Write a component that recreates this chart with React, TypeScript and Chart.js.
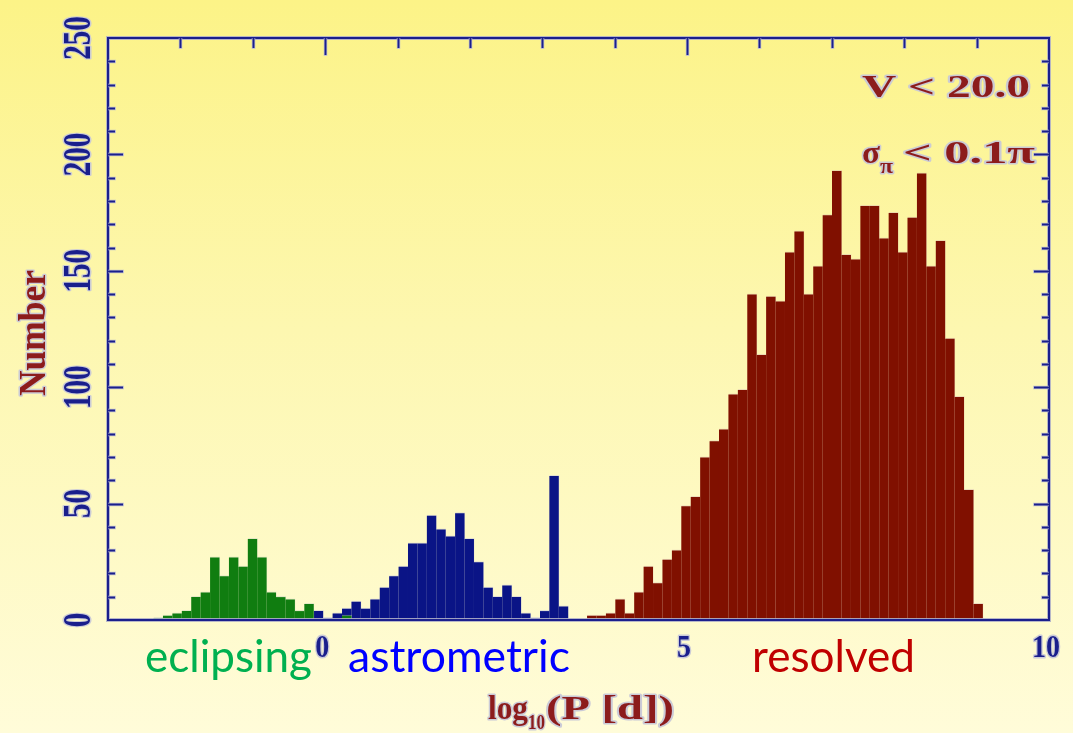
import React, { useEffect, useRef } from "react";
import { Chart, registerables } from "chart.js";

Chart.register(...registerables);

// ---- axes ----
const xAxisMin = -3;
const xAxisMax = 10;
const yAxisMin = 0;
const yAxisMax = 250;
const xTickLabels = [0, 5, 10];
const yTickLabels = [0, 50, 100, 150, 200, 250];
const xMinorStep = 1;
const yMinorStep = 10;

// ---- histogram bins (log10 P [d]) ----
const binStart = -2.371;
const binWidth = 0.1302;

const eclipsingStartBin = 0;
const eclipsingCounts = [1, 2, 3, 4, 10, 12, 27, 19, 27, 23, 35, 27, 12, 10, 9, 4, 7, null, null, null, 2];

const astrometricStartBin = 17;
const astrometricCounts = [4, 1, 3, 5, 8, 5, 9, 14, 19, 23, 33, 33, 45, 39, 36, 46, 35, 25, 14, 10, 15, 10, 3, 1, 4, 62, 6];

const resolvedStartBin = 46;
const resolvedCounts = [
  2, 2, 3, 9, 3, 12, 23, 16, 26, 30, 49, 53, 70, 77, 82, 97, 99, 140, 114, 139, 137,
  158, 167, 140, 152, 174, 193, 157, 155, 178, 178, 164, 175, 158, 173, 192, 152, 163,
  121, 96, 56, 7,
];

const seriesNames = ["eclipsing", "astrometric", "resolved"];
const barColors = ["#107d10", "#0a1486", "#801000"];
const labelColors = ["#00b050", "#0000ff", "#c00000"];

const navy = "#1a1f8c";
const darkRed = "#8c1c1c";
const halo = "rgba(200,200,215,0.95)";

function toPoints(startBin: number, counts: (number | null)[]) {
  return counts.map((c, i) => ({ x: binStart + (startBin + i + 0.5) * binWidth, y: c }));
}

function fitText(
  ctx: CanvasRenderingContext2D,
  text: string,
  x: number,
  y: number,
  width: number,
  color: string,
  haloColor?: string
) {
  const w = ctx.measureText(text).width;
  ctx.save();
  ctx.translate(x, y);
  ctx.scale(width / w, 1);
  if (haloColor) {
    ctx.lineJoin = "round";
    ctx.lineWidth = 3;
    ctx.strokeStyle = haloColor;
    ctx.strokeText(text, 0, 0);
  }
  ctx.fillStyle = color;
  ctx.fillText(text, 0, 0);
  ctx.restore();
}

const decorPlugin = {
  id: "decor",
  afterDatasetsDraw(chart: any) {
    const { ctx, chartArea: a, scales } = chart;
    const x = scales.x;
    const y = scales.y;
    ctx.save();

    // frame
    ctx.strokeStyle = "rgba(175,175,200,0.9)";
    ctx.lineWidth = 4;
    ctx.strokeRect(a.left, a.top, a.right - a.left, a.bottom - a.top);
    ctx.strokeStyle = navy;
    ctx.lineWidth = 2;
    ctx.strokeRect(a.left, a.top, a.right - a.left, a.bottom - a.top);

    // y ticks (left and right)
    for (let v = yAxisMin + yMinorStep; v < yAxisMax; v += yMinorStep) {
      const py = Math.round(y.getPixelForValue(v)) + 0.5;
      const len = yTickLabels.includes(v) ? 15 : 7;
      ctx.strokeStyle = "rgba(190,190,210,0.9)";
      ctx.lineWidth = 3.5;
      ctx.beginPath();
      ctx.moveTo(a.left, py);
      ctx.lineTo(a.left + len + 1, py);
      ctx.moveTo(a.right, py);
      ctx.lineTo(a.right - len - 1, py);
      ctx.stroke();
      ctx.strokeStyle = navy;
      ctx.lineWidth = 2;
      ctx.beginPath();
      ctx.moveTo(a.left, py);
      ctx.lineTo(a.left + len, py);
      ctx.moveTo(a.right, py);
      ctx.lineTo(a.right - len, py);
      ctx.stroke();
    }
    // x ticks (top)
    for (let v = xAxisMin + xMinorStep; v < xAxisMax; v += xMinorStep) {
      const px = Math.round(x.getPixelForValue(v)) + 0.5;
      const len = xTickLabels.includes(v) ? 17 : 10;
      ctx.strokeStyle = "rgba(190,190,210,0.9)";
      ctx.lineWidth = 3.5;
      ctx.beginPath();
      ctx.moveTo(px, a.top);
      ctx.lineTo(px, a.top + len + 1);
      ctx.stroke();
      ctx.strokeStyle = navy;
      ctx.lineWidth = 2;
      ctx.beginPath();
      ctx.moveTo(px, a.top);
      ctx.lineTo(px, a.top + len);
      ctx.stroke();
    }

    // y tick labels (rotated)
    ctx.font = "bold 40px 'Liberation Serif'";
    ctx.textBaseline = "middle";
    ctx.textAlign = "left";
    for (const v of yTickLabels) {
      const py = y.getPixelForValue(v);
      const s = String(v);
      const w = s.length * 14.5;
      ctx.save();
      ctx.translate(80, py);
      ctx.rotate(-Math.PI / 2);
      fitText(ctx, s, -w / 2, 0, w, navy, halo);
      ctx.restore();
    }

    // x tick labels
    ctx.font = "bold 32px 'Liberation Serif'";
    ctx.textBaseline = "alphabetic";
    for (const v of xTickLabels) {
      const px = x.getPixelForValue(v) - 3;
      const s = String(v);
      const w = s.length * 14;
      fitText(ctx, s, px - w / 2, 657, w, navy, halo);
    }

    // axis titles
    ctx.font = "bold 38px 'Liberation Serif'";
    ctx.save();
    ctx.translate(45, 333);
    ctx.rotate(-Math.PI / 2);
    ctx.textBaseline = "alphabetic";
    fitText(ctx, "Number", -63, 0, 126, darkRed, halo);
    ctx.restore();

    ctx.font = "bold 34px 'Liberation Serif'";
    fitText(ctx, "log", 488, 719, 40, darkRed, halo);
    ctx.font = "bold 22px 'Liberation Serif'";
    fitText(ctx, "10", 528, 729, 17, darkRed, halo);
    ctx.font = "bold 34px 'Liberation Serif'";
    fitText(ctx, "(P [d])", 546, 719, 128, darkRed, halo);

    // selection annotations
    ctx.font = "bold 32px 'Liberation Serif'";
    fitText(ctx, "V < 20.0", 862, 97, 168, darkRed, halo);
    fitText(ctx, "σ", 862, 163, 18, darkRed, halo);
    ctx.font = "bold 22px 'Liberation Serif'";
    fitText(ctx, "π", 880, 173, 13, darkRed, halo);
    ctx.font = "bold 32px 'Liberation Serif'";
    fitText(ctx, "< 0.1π", 903, 163, 132, darkRed, halo);

    // region labels
    ctx.font = "44px Lato";
    fitText(ctx, seriesNames[0], 145, 672, 167, labelColors[0]);
    fitText(ctx, seriesNames[1], 348, 672, 222, labelColors[1]);
    fitText(ctx, seriesNames[2], 752, 672, 163, labelColors[2]);

    ctx.restore();
  },
};

export default function App() {
  const canvasRef = useRef<HTMLCanvasElement | null>(null);

  useEffect(() => {
    document.body.style.margin = "0";
    document.body.style.overflow = "hidden";
    const canvas = canvasRef.current;
    if (!canvas) return;

    const border = { top: 1, left: 0, right: 0.6, bottom: 0 };
    const datasets = [
      {
        label: seriesNames[0],
        data: toPoints(eclipsingStartBin, eclipsingCounts),
        backgroundColor: barColors[0],
        borderColor: "rgba(200,210,190,0.45)",
      },
      {
        label: seriesNames[1],
        data: toPoints(astrometricStartBin, astrometricCounts),
        backgroundColor: barColors[1],
        borderColor: "rgba(190,190,220,0.45)",
      },
      {
        label: seriesNames[2],
        data: toPoints(resolvedStartBin, resolvedCounts),
        backgroundColor: barColors[2],
        borderColor: "rgba(215,185,180,0.45)",
      },
    ].map((d) => ({
      ...d,
      borderWidth: border,
      borderSkipped: false,
      barPercentage: 1,
      categoryPercentage: 1,
      grouped: false,
      inflateAmount: 0.6,
    }));

    const chart = new Chart(canvas, {
      type: "bar",
      data: { datasets: datasets as any },
      options: {
        animation: false,
        responsive: false,
        maintainAspectRatio: false,
        layout: { padding: { left: 108, right: 24, top: 38, bottom: 113 } },
        plugins: { legend: { display: false }, tooltip: { enabled: false } },
        scales: {
          x: { type: "linear", min: xAxisMin, max: xAxisMax, display: false, offset: false },
          y: { type: "linear", min: yAxisMin, max: yAxisMax, display: false },
        },
      },
      plugins: [decorPlugin],
    });
    return () => chart.destroy();
  }, []);

  return (
    <div
      style={{
        width: 1073,
        height: 733,
        background: "linear-gradient(to bottom, #fcf387 0%, #fdf7b0 45%, #fffcd9 100%)",
      }}
    >
      <canvas ref={canvasRef} width={1073} height={733} style={{ display: "block" }} />
    </div>
  );
}
